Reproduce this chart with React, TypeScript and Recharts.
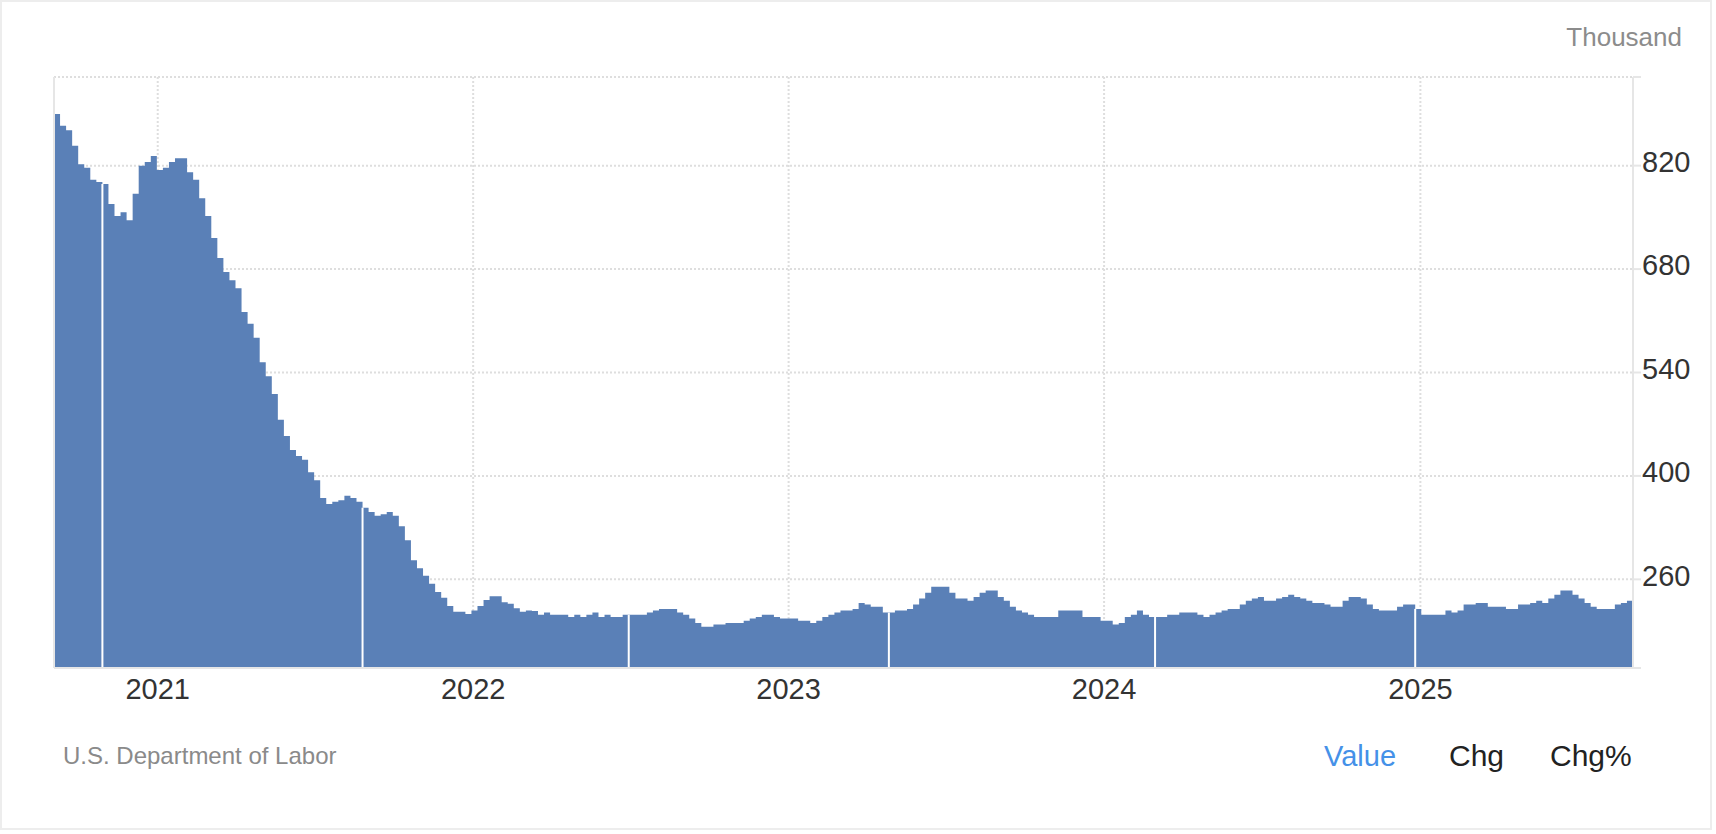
import React from "react";
import {
  Area,
  AreaChart,
  CartesianGrid,
  ReferenceLine,
  XAxis,
  YAxis,
} from "recharts";

// weekly values, in thousands, one per release week starting 2020-09-03
const claims2020 = [890, 874, 868, 847, 822, 817, 801, 798, 795, 768, 752, 757, 746, 782, 820, 825, 833, 814];
const claims2021 = [
  817, 825, 830, 830, 811, 801, 776, 752, 722, 695, 676, 665, 654, 622, 606, 587, 554, 535, 511, 476,
  454, 435, 427, 422, 405, 394, 370, 362, 365, 367, 373, 370, 365, 357, 351, 346, 348, 351, 346, 332,
  313, 286, 275, 265, 254, 243, 235, 224, 216, 216, 213, 218,
];
const claims2022 = [
  224, 232, 237, 237, 229, 227, 221, 216, 218, 217, 212, 215, 212, 212, 212, 209, 212, 209, 212, 215,
  209, 212, 209, 209, 212, 212, 212, 212, 215, 218, 220, 220, 220, 215, 212, 207, 201, 196, 196, 199,
  199, 201, 201, 201, 204, 207, 209, 212, 212, 209, 207, 207,
];
const claims2023 = [
  207, 204, 204, 201, 204, 209, 212, 215, 218, 218, 220, 228, 226, 223, 223, 215, 215, 218, 218, 220,
  226, 234, 242, 250, 250, 250, 242, 234, 234, 231, 236, 242, 245, 245, 236, 231, 223, 218, 215, 212,
  209, 209, 209, 209, 218, 218, 218, 218, 209, 209, 209, 204,
];
const claims2024 = [
  204, 199, 201, 209, 212, 218, 212, 209, 209, 209, 212, 212, 215, 215, 215, 212, 209, 212, 215, 218,
  220, 220, 226, 231, 234, 236, 231, 231, 234, 236, 239, 236, 234, 231, 228, 228, 226, 223, 223, 231,
  236, 236, 234, 226, 220, 218, 218, 218, 223, 226, 226, 220,
];
const claims2025 = [
  212, 212, 212, 212, 218, 215, 218, 226, 226, 228, 228, 223, 223, 223, 220, 220, 226, 226, 228, 231,
  228, 234, 239, 245, 245, 239, 234, 228, 223, 220, 220, 220, 226, 228, 231,
];

const yearLabels = [2021, 2022, 2023, 2024, 2025];
const valueTicks = [260, 400, 540, 680, 820];
const valueDomain = [140, 940];
// weeks where the drawn area is split by a thin white gap
const segmentBreaks = [8, 51, 95, 138, 182, 225];

const FONT = "'Liberation Sans', Arial, Helvetica, sans-serif";
const WEEK = 7 * 24 * 3600 * 1000;
const firstWeek = Date.UTC(2020, 8, 3);

const weekly = [...claims2020, ...claims2021, ...claims2022, ...claims2023, ...claims2024, ...claims2025];
const chartData = weekly.map((v, i) => ({ t: firstWeek + i * WEEK, value: v }));
// closing point so the last step gets its full width
chartData.push({ t: firstWeek + weekly.length * WEEK, value: weekly[weekly.length - 1] });
const lastT = chartData[chartData.length - 1].t;
const yearTicks = yearLabels.map((y) => Date.UTC(y, 0, 1));

const greyLine = { stroke: "#e6e6e6", strokeWidth: 2 };

export default function App() {
  return (
    <div
      style={{
        position: "fixed",
        left: 0,
        top: 0,
        width: 1716,
        height: 834,
        background: "#fff",
        fontFamily: FONT,
      }}
    >
      <div
        style={{
          position: "absolute",
          left: 0,
          top: 0,
          width: 1708,
          height: 826,
          border: "2px solid #ededed",
        }}
      />
      <div
        style={{
          position: "absolute",
          right: 34,
          top: 24,
          fontSize: 26,
          lineHeight: 1,
          color: "#8c8c8c",
        }}
      >
        Thousand
      </div>

      <AreaChart
        width={1716}
        height={834}
        data={chartData}
        margin={{ top: 77, right: 13, bottom: 126, left: 54 }}
        style={{ position: "absolute", left: 0, top: 0, fontFamily: FONT }}
      >
        <CartesianGrid stroke="#dedede" strokeWidth={2} strokeDasharray="2 2" />
        <XAxis
          dataKey="t"
          type="number"
          domain={[firstWeek, lastT]}
          allowDataOverflow
          ticks={yearTicks}
          interval={0}
          tickFormatter={(t) => String(new Date(t).getUTCFullYear())}
          tickLine={false}
          tickSize={0}
          tickMargin={10}
          axisLine={greyLine}
          tick={{ fill: "#333", fontSize: 29 }}
          height={40}
        />
        <YAxis
          orientation="right"
          type="number"
          domain={valueDomain}
          allowDataOverflow
          ticks={[valueDomain[0], ...valueTicks, valueDomain[1]]}
          interval={0}
          tickFormatter={(v) => (valueTicks.includes(v) ? String(v) : "")}
          tickSize={8}
          tickMargin={1}
          axisLine={greyLine}
          tickLine={greyLine}
          tick={{ fill: "#333", fontSize: 29, dy: -4 }}
          width={70}
        />
        <Area
          type="stepAfter"
          dataKey="value"
          stroke="none"
          fill="#5a80b7"
          fillOpacity={1}
          dot={false}
          activeDot={false}
          isAnimationActive={false}
        />
        <ReferenceLine x={firstWeek} {...greyLine} />
        {segmentBreaks.map((k) => (
          <ReferenceLine
            key={k}
            segment={[
              { x: chartData[k].t, y: valueDomain[0] },
              { x: chartData[k].t, y: weekly[k] },
            ]}
            stroke="#fff"
            strokeWidth={2}
          />
        ))}
      </AreaChart>

      <div
        style={{
          position: "absolute",
          left: 63,
          top: 744,
          fontSize: 24,
          lineHeight: 1,
          color: "#8a8a8a",
          whiteSpace: "nowrap",
        }}
      >
        U.S. Department of Labor
      </div>
      {[
        { label: "Value", left: 1324, color: "#4591e8", size: 29 },
        { label: "Chg", left: 1449, color: "#222", size: 30 },
        { label: "Chg%", left: 1550, color: "#222", size: 30 },
      ].map((b) => (
        <div
          key={b.label}
          style={{
            position: "absolute",
            left: b.left,
            top: 756 - b.size / 2,
            fontSize: b.size,
            lineHeight: 1,
            color: b.color,
            whiteSpace: "nowrap",
          }}
        >
          {b.label}
        </div>
      ))}
    </div>
  );
}
